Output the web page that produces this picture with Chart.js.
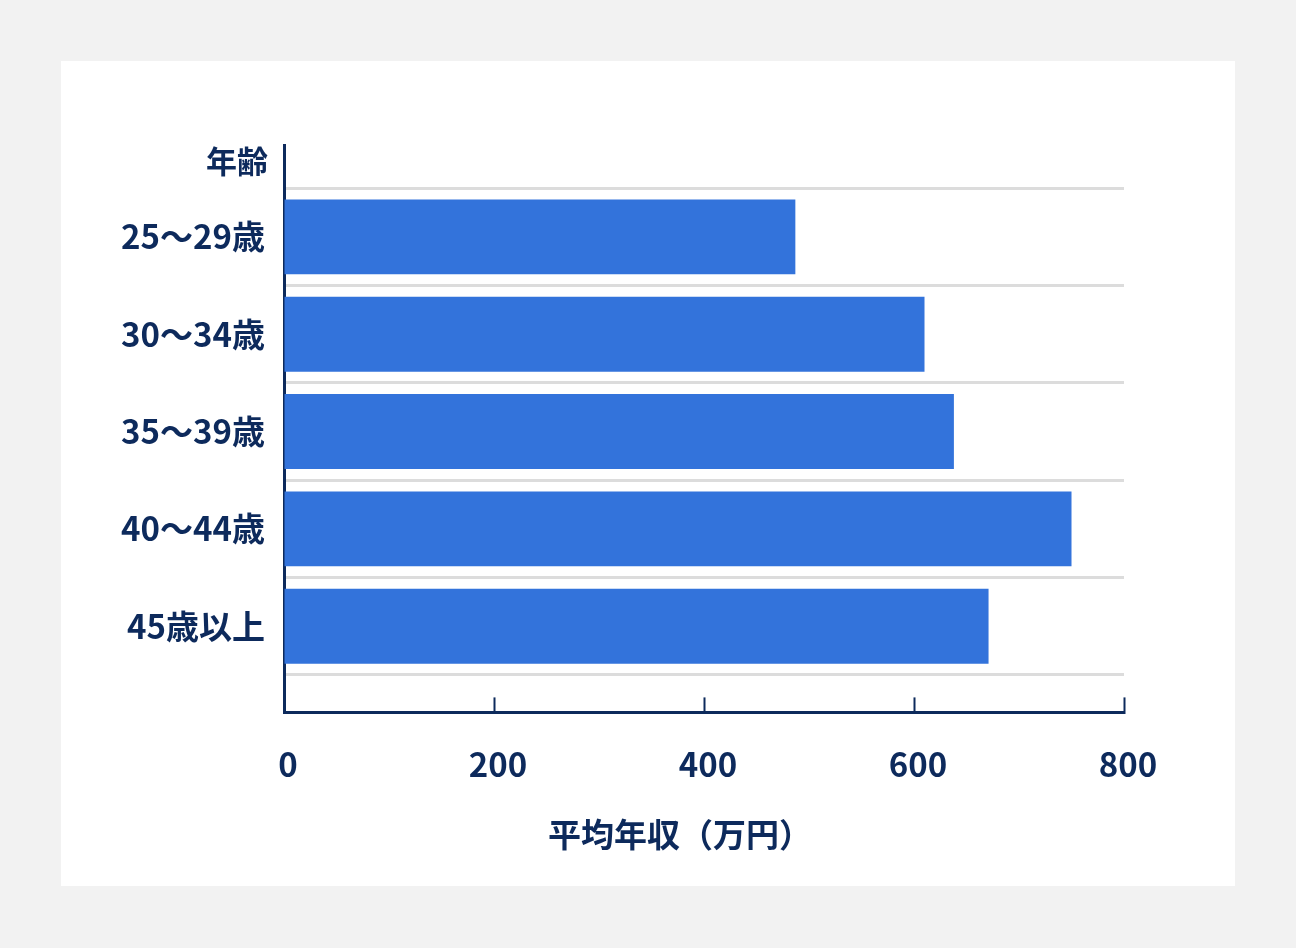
<!DOCTYPE html>
<html lang="ja">
<head>
<meta charset="utf-8">
<title>年齢別 平均年収</title>
<script src="https://cdn.jsdelivr.net/npm/chart.js@4"></script>
<style>
    html, body { margin: 0; padding: 0; background: #f2f2f2; }
    body { width: 1296px; height: 948px; position: relative; overflow: hidden; }
    .card { position: absolute; left: 61px; top: 61px; width: 1174px; height: 825px; background: #fff; }
    .card canvas { display: block; }
</style>
</head>
<body>
<div class="card">
    <canvas id="incomeChart" width="1174" height="825"></canvas>
</div>
<script>
// 年齢区分と平均年収（万円）
const ageGroups = ['25〜29歳', '30〜34歳', '35〜39歳', '40〜44歳', '45歳以上'];
const avgIncome = [487, 610, 638, 750, 671];
const incomeTicks = [0, 200, 400, 600, 800];
const yCaption = '年齢';
const xCaption = '平均年収（万円）';

const NAVY = '#0d2a5c';
const BAR_BLUE = '#3373db';
const FONT = '"Noto Sans CJK JP", "Noto Sans", sans-serif';

Chart.defaults.font.family = FONT;
Chart.defaults.font.weight = 'bold';
Chart.defaults.color = NAVY;

// 軸の見出し（縦軸の上「年齢」、横軸の下「平均年収（万円）」）
const axisCaptions = {
    id: 'axisCaptions',
    afterDraw(chart) {
        const { ctx, chartArea } = chart;
        ctx.save();
        ctx.fillStyle = NAVY;
        ctx.textBaseline = 'middle';

        ctx.font = 'bold 31px ' + FONT;
        ctx.textAlign = 'right';
        ctx.fillText(yCaption, chartArea.left - 16, chartArea.top + 16);

        ctx.font = 'bold 33px ' + FONT;
        ctx.textAlign = 'center';
        const midX = (chartArea.left + chartArea.right) / 2;
        ctx.fillText(xCaption, midX - 24, chartArea.bottom + 122);
        ctx.restore();
    }
};

const ctx = document.getElementById('incomeChart').getContext('2d');

new Chart(ctx, {
    type: 'bar',
    data: {
        datasets: [{
            label: xCaption,
            data: avgIncome.map((v, i) => ({ x: v, y: i })),
            backgroundColor: BAR_BLUE,
            borderWidth: 0,
            categoryPercentage: 1,
            barPercentage: 0.77
        }]
    },
    options: {
        indexAxis: 'y',
        responsive: false,
        animation: false,
        devicePixelRatio: 1,
        layout: {
            padding: { left: 20, right: 111, top: 84, bottom: 55 }
        },
        plugins: {
            legend: { display: false },
            tooltip: { enabled: false }
        },
        scales: {
            x: {
                type: 'linear',
                min: 0,
                max: 800,
                afterBuildTicks: (scale) => {
                    scale.ticks = incomeTicks.map(v => ({ value: v }));
                },
                grid: {
                    drawOnChartArea: false,
                    drawTicks: true,
                    tickLength: -15,
                    tickWidth: 2,
                    tickColor: NAVY
                },
                border: { display: true, color: NAVY, width: 3 },
                ticks: {
                    padding: 47,
                    labelOffset: 4,
                    color: NAVY,
                    font: { size: 33, weight: 'bold' }
                }
            },
            y: {
                type: 'linear',
                reverse: true,
                offset: false,
                min: -0.944,
                max: 4.886,
                z: 1,
                afterBuildTicks: (scale) => {
                    scale.ticks = ageGroups.map((_, i) => ({ value: i }));
                },
                afterFit: (scale) => {
                    scale.width = 203;
                },
                grid: {
                    offset: true,
                    drawTicks: false,
                    color: '#dcdcdc',
                    lineWidth: 3
                },
                border: { display: true, color: NAVY, width: 3 },
                ticks: {
                    padding: 19,
                    color: NAVY,
                    font: { size: 33, weight: 'bold' },
                    callback: (value) => ageGroups[value]
                }
            }
        }
    },
    plugins: [axisCaptions]
});
</script>
</body>
</html>
